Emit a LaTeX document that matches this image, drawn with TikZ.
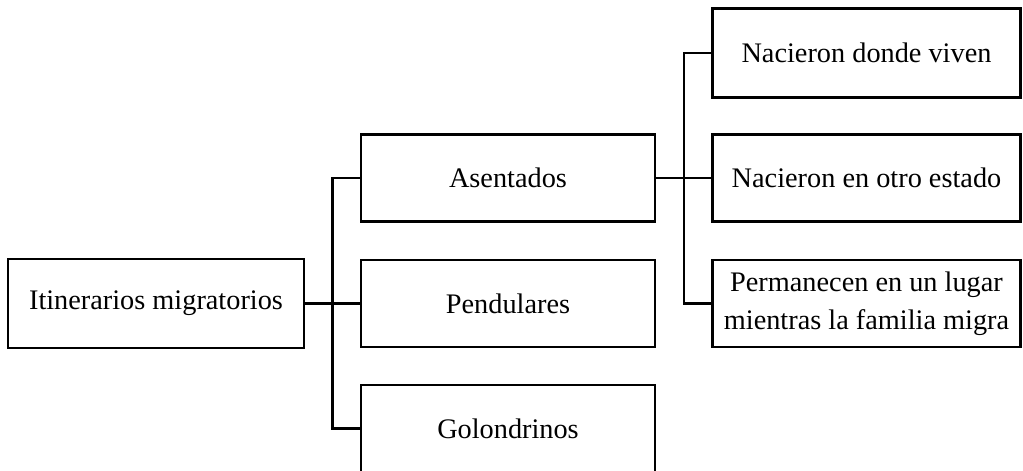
\documentclass[tikz,border=0pt]{standalone}
\usepackage{fontspec}
\setmainfont{Liberation Serif}
\usetikzlibrary{calc}
\tikzset{
  box/.style={draw, line width=2.4pt, align=center, inner sep=0pt,
    font=\fontsize{28.3}{38}\selectfont},
  conn/.style={line width=2.4pt}
}
\begin{document}
\begin{tikzpicture}[x=1pt,y=-1pt]
\useasboundingbox (0,0) rectangle (1023,471);
\node[box, minimum width=296pt, minimum height=89pt] (root) at (156,303.5) {Itinerarios migratorios};
\node[box, minimum width=294pt, minimum height=87pt] (asen) at (508,178) {Asentados};
\node[box, minimum width=294pt, minimum height=87pt] (pend) at (508,303.5) {Pendulares};
\node[box, minimum width=294pt, minimum height=87pt] (golo) at (508,428.5) {Golondrinos};
\node[box, minimum width=308pt, minimum height=89pt] (nac) at (866.5,53) {Nacieron donde viven};
\node[box, minimum width=308pt, minimum height=87pt] (otro) at (866.5,178) {Nacieron en otro estado};
\node[box, minimum width=308pt, minimum height=87pt] (perm) at (866.5,303.5) {Permanecen en un lugar\\mientras la familia migra};
\coordinate (t1) at ($(root.east)!0.5!(pend.west)$);
\coordinate (t2) at ($(asen.east)!0.5!(otro.west)$);
\draw[conn] (root.east) -- (pend.west);
\draw[conn] (asen.west) -| (t1) |- (golo.west);
\draw[conn] (asen.east) -- (otro.west);
\draw[conn] (nac.west) -| (t2) |- (perm.west);
\end{tikzpicture}
\end{document}
